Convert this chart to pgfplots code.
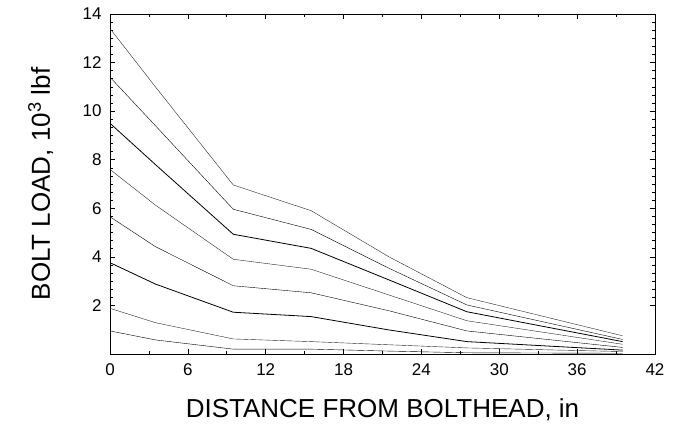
\documentclass[border=0pt]{standalone}
\usepackage{fontspec}
\setmainfont{Liberation Sans}
\usepackage{pgfplots}
\pgfplotsset{compat=1.18}
\begin{document}
\begin{tikzpicture}
\begin{axis}[
  scale only axis, width=545pt, height=340pt,
  xmin=0, xmax=42, ymin=0, ymax=14,
  xtick={0,6,...,42}, ytick={2,4,...,14},
  minor x tick num=1, minor y tick num=5,
  tick align=inside, major tick length=5pt, minor tick length=3pt,
  tick style={black, line width=0.6pt},
  axis line style={line width=0.8pt},
  every tick label/.append style={font=\fontsize{17}{20}\selectfont},
  xticklabel style={yshift=-6pt},
  yticklabel style={xshift=-5pt},
  /pgf/number format/assume math mode=true,
  xlabel={DISTANCE FROM BOLTHEAD, in},
  ylabel={BOLT LOAD, 10\textsuperscript{3} lbf},
  label style={font=\fontsize{26}{30}\selectfont},
  xlabel style={at={(axis description cs:0.5,-0.165)}, anchor=center},
  ylabel style={at={(axis description cs:-0.127,0.5)}, anchor=center},
  cycle list={{black!85, mark=none, line width=0.8pt}},
]
% bolt load vs distance, one line per load step
\addplot coordinates {(0,13.4)(3.5,11.0)(9.5,6.96)(15.5,5.9)(21.5,4.0)(27.5,2.32)(39.5,0.75)};
\addplot coordinates {(0,11.4)(3.5,9.4)(9.5,5.96)(15.5,5.13)(21.5,3.53)(27.5,2.02)(39.5,0.6)};
\addplot coordinates {(0,9.5)(3.5,7.8)(9.5,4.93)(15.5,4.35)(21.5,3.05)(27.5,1.74)(39.5,0.51)};
\addplot coordinates {(0,7.6)(3.5,6.13)(9.5,3.9)(15.5,3.49)(21.5,2.43)(27.5,1.37)(39.5,0.4)};
\addplot coordinates {(0,5.65)(3.5,4.42)(9.5,2.81)(15.5,2.52)(21.5,1.78)(27.5,0.95)(39.5,0.27)};
\addplot coordinates {(0,3.76)(3.5,2.88)(9.5,1.72)(15.5,1.54)(21.5,0.99)(27.5,0.51)(39.5,0.16)};
\addplot coordinates {(0,1.88)(3.5,1.29)(9.5,0.62)(15.5,0.51)(21.5,0.38)(27.5,0.25)(39.5,0.1)};
\addplot coordinates {(0,0.95)(3.5,0.58)(9.5,0.2)(15.5,0.2)(21.5,0.12)(27.5,0.05)(39.5,0.03)};
\end{axis}
\path (current axis.south west) ++(-110pt,-73pt) rectangle ++(677pt,427pt);
\end{tikzpicture}
\end{document}
